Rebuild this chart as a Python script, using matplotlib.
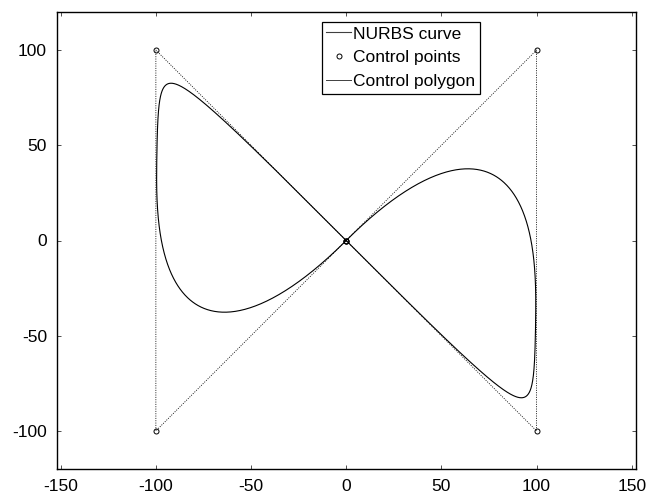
import numpy as np
import matplotlib
matplotlib.use('Agg')
import matplotlib.pyplot as plt
from matplotlib.lines import Line2D

plt.rcParams['font.family'] = ['Liberation Sans', 'DejaVu Sans']
plt.rcParams['axes.unicode_minus'] = False

# control points of the NURBS curve
ctrl_x = [0, 100, 100, 0, -100, -100, 0]
ctrl_y = [0, 100, -100, 0, 100, -100, 0]
# weights and knot vector (cubic), estimated from the reference curve shape
weights = [2.4, 2.8, 11.3, 1.0, 11.3, 2.8, 2.4]
knots = [0, 0, 0, 0, 0.109, 0.5, 0.891, 1, 1, 1, 1]
degree = 3

xticks = [-150, -100, -50, 0, 50, 100, 150]
yticks = [-100, -50, 0, 50, 100]
labels = ['NURBS curve', 'Control points', 'Control polygon']


def basis(u, kn, p):
    kn = np.asarray(kn, float)
    m = len(kn) - 1
    N = np.zeros((len(u), m))
    for i in range(m):
        N[:, i] = (u >= kn[i]) & (u < kn[i + 1])
    last = np.where(kn[:-1] < kn[-1])[0][-1]
    end = u >= kn[-1]
    N[end, :] = 0
    N[end, last] = 1
    for k in range(1, p + 1):
        Nn = np.zeros((len(u), m - k))
        for i in range(m - k):
            d1 = kn[i + k] - kn[i]
            d2 = kn[i + k + 1] - kn[i + 1]
            t = 0.0
            if d1 > 0:
                t = t + (u - kn[i]) / d1 * N[:, i]
            if d2 > 0:
                t = t + (kn[i + k + 1] - u) / d2 * N[:, i + 1]
            Nn[:, i] = t
        N = Nn
    return N


P = np.column_stack([ctrl_x, ctrl_y]).astype(float)
u = np.linspace(0, 1, 3000)
Nw = basis(u, knots, degree) * np.asarray(weights)
curve = (Nw @ P) / Nw.sum(1, keepdims=True)

fig = plt.figure(figsize=(6.56, 4.96), dpi=100)
ax = fig.add_axes([56.7 / 656, 27 / 496, 579 / 656, 457 / 496])

ax.plot(curve[:, 0], curve[:, 1], color='black', lw=0.8)
ax.plot(ctrl_x, ctrl_y, 'o', ms=3.6, mfc='none', mec='black', mew=0.7)
ax.plot(ctrl_x, ctrl_y, linestyle=(0, (1.2, 1.6)), color='black', lw=0.6)

ax.set_xlim(-152.1, 152.1)
ax.set_ylim(-120, 120)
ax.set_xticks(xticks)
ax.set_yticks(yticks)
ax.tick_params(direction='in', length=3, width=0.6, color='0.2',
               top=True, right=True, labelsize=12.5, pad=7)
for s in ax.spines.values():
    s.set_linewidth(1.0)
    s.set_color('black')

handles = [Line2D([], [], color='0.25', lw=0.8),
           Line2D([], [], linestyle='none', marker='o', ms=3.6, mfc='none', mec='black', mew=0.7),
           Line2D([], [], color='0.25', lw=0.7)]
leg = ax.legend(handles, labels, loc='upper right', bbox_to_anchor=(0.731, 0.978),
                fontsize=12.5, frameon=True, fancybox=False, framealpha=1,
                edgecolor='black', borderpad=0.25, labelspacing=0.5,
                handlelength=1.45, handletextpad=0.12, borderaxespad=0, numpoints=1)
leg.get_frame().set_linewidth(0.9)

fig.savefig('out.png', dpi=100)
